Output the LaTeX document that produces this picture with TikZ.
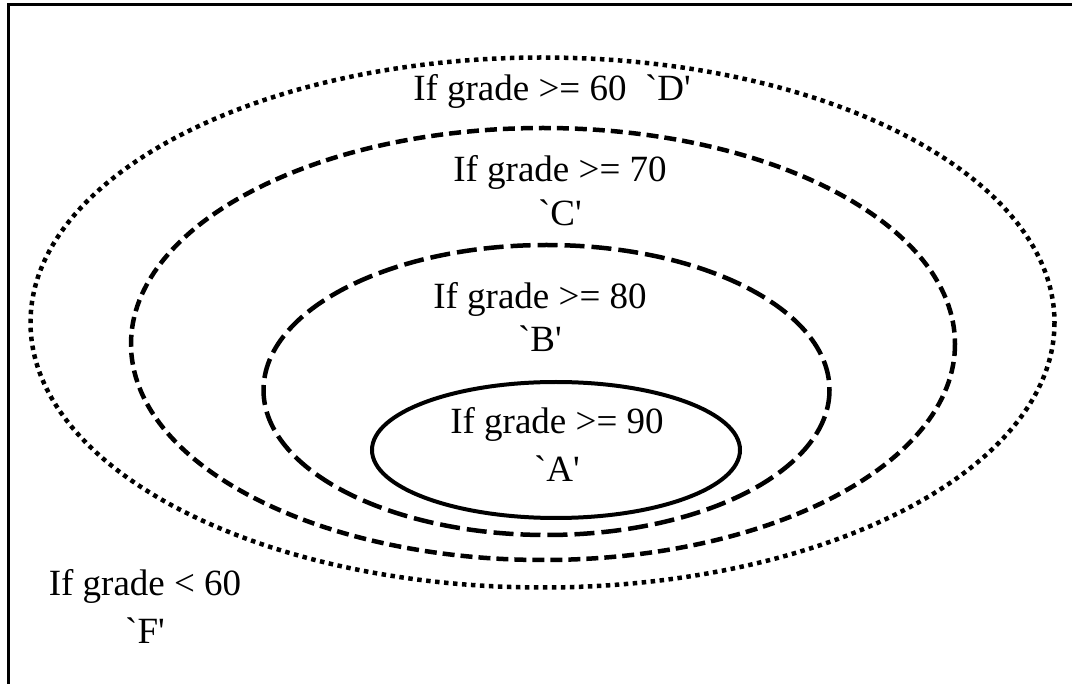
\documentclass[tikz,border=0pt]{standalone}
\usepackage{fontspec}
\setmainfont{Liberation Serif}[Ligatures=TeXOff]
\begin{document}
\begin{tikzpicture}[x=1pt,y=-1pt,
  lbl/.style={anchor=base,inner sep=0pt,font=\fontsize{37}{44}\selectfont},
  ring/.style={line width=4.5pt}]
\useasboundingbox (0,0) rectangle (1072,684);
% frame
\draw[line width=3.5pt] (1072,4.5) -- (8.5,4.5) -- (8.5,684);
% ellipses
\draw[ring,dash pattern=on 4.5pt off 4.5pt] (542.5,322.5) ellipse [x radius=512, y radius=265];
\draw[ring,dash pattern=on 12pt off 6pt] (543,344) ellipse [x radius=412, y radius=216];
\draw[ring,dash pattern=on 20pt off 7pt] (546.5,390) ellipse [x radius=283, y radius=145];
\draw[line width=4pt] (556,450) ellipse [x radius=184, y radius=68];
% labels
\node[lbl] (tD) at (552,101) {If grade >= 60\ \ `D'};
\node[lbl] (tC1) at (560,182) {If grade >= 70};
\node[lbl] (tC2) at (560,226) {`C'};
\node[lbl] (tB1) at (540,309) {If grade >= 80};
\node[lbl] (tB2) at (540,352) {`B'};
\node[lbl] (tA1) at (557,434) {If grade >= 90};
\node[lbl] (tA2) at (557,482) {`A'};
\node[lbl] (tF1) at (145,596) {If grade < 60};
\node[lbl] (tF2) at (145,643) {`F'};
\end{tikzpicture}
\end{document}
